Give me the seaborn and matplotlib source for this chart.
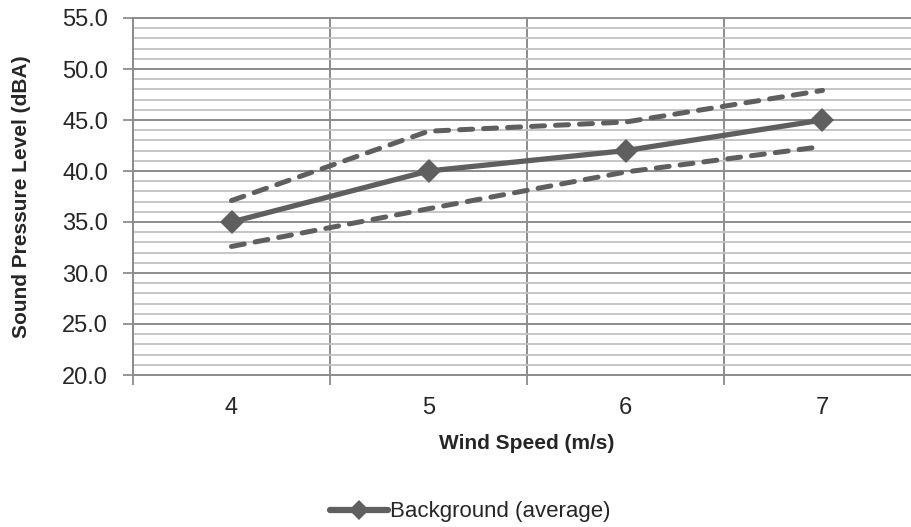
import numpy as np
import pandas as pd
import matplotlib
matplotlib.use("Agg")
import matplotlib.pyplot as plt
import seaborn as sns
from matplotlib.ticker import MultipleLocator, FixedLocator, NullFormatter
from matplotlib.lines import Line2D

# ---- data ----
wind_speed = ["4", "5", "6", "7"]
background_avg = [35.0, 40.0, 42.0, 45.0]
upper_band = [37.1, 43.9, 44.8, 47.9]
lower_band = [32.6, 36.3, 39.9, 42.4]
y_ticks = [20, 25, 30, 35, 40, 45, 50, 55]

sns.set_theme(style="white")
plt.rcParams["font.family"] = ["Liberation Sans", "DejaVu Sans"]

LINE = "#5f5f5f"
MAJ = "#8c8c8c"
MIN = "#c2c2c2"

fig = plt.figure(figsize=(9.11, 5.27), dpi=100)
ax = fig.add_axes([133 / 911, (527 - 375) / 527, 788 / 911, 357 / 527])

pos = np.arange(len(wind_speed))
df = pd.DataFrame({"pos": pos, "avg": background_avg,
                   "up": upper_band, "lo": lower_band})

for col in ["up", "lo"]:
    sns.lineplot(data=df, x="pos", y=col, ax=ax, color=LINE, lw=3.6,
                 legend=False, dashes=False, zorder=3,
                 linestyle=(0, (2.6, 2.2)), dash_capstyle="round")
sns.lineplot(data=df, x="pos", y="avg", ax=ax, color=LINE, lw=3.8,
             marker="D", markersize=12, markeredgewidth=0,
             legend=False, zorder=4)

ax.set_xlim(-0.5, 3.5)
ax.set_ylim(20, 55)

# x axis: labels at centres, grid/ticks at category boundaries
ax.xaxis.set_major_locator(FixedLocator(pos))
ax.set_xticklabels(wind_speed, fontsize=17)
ax.xaxis.set_minor_locator(FixedLocator(np.arange(-0.5, 4.0, 1.0)))
ax.tick_params(axis="x", which="major", length=0, pad=16)
ax.tick_params(axis="x", which="minor", length=7, width=1.3, color=MAJ,
               direction="out", bottom=True)

# y axis
ax.yaxis.set_major_locator(FixedLocator(y_ticks))
ax.set_yticklabels([f"{v:.1f}" for v in y_ticks], fontsize=17)
ax.yaxis.set_minor_locator(MultipleLocator(1))
ax.yaxis.set_minor_formatter(NullFormatter())
ax.tick_params(axis="y", which="major", length=7, width=1.3, color=MAJ,
               direction="out", left=True, pad=11)
ax.tick_params(axis="y", which="minor", length=0)

ax.yaxis.grid(True, which="minor", color=MIN, lw=1.3, zorder=0)
ax.yaxis.grid(True, which="major", color=MAJ, lw=1.4, zorder=1)
ax.xaxis.grid(True, which="minor", color=MAJ, lw=1.4, zorder=1)
ax.xaxis.grid(False, which="major")
ax.set_axisbelow(True)

for s in ["left", "bottom", "top"]:
    ax.spines[s].set_color(MAJ)
    ax.spines[s].set_linewidth(1.4)
ax.spines["right"].set_visible(False)

ax.set_xlabel("Wind Speed (m/s)", fontsize=15, fontweight="bold")
ax.xaxis.set_label_coords(0.5, -(434 - 375) / 357)
ax.set_ylabel("Sound Pressure Level (dBA)", fontsize=15, fontweight="bold")
ax.yaxis.set_label_coords(-(133 - 31) / 788, 0.5)

handle = Line2D([], [], color=LINE, lw=4.5, marker="D", markersize=10,
                markeredgewidth=0)
fig.legend([handle], ["Background (average)"], loc="center",
           bbox_to_anchor=(470 / 911, 15 / 527), frameon=False,
           prop={"size": 16}, handlelength=2.6, handletextpad=0.1)

fig.savefig("out.png", dpi=100)
